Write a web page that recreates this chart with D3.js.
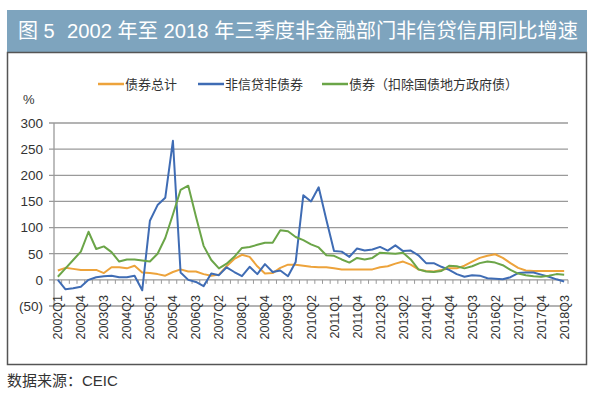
<!DOCTYPE html>
<html><head><meta charset="utf-8">
<script src="https://cdn.jsdelivr.net/npm/d3@7/dist/d3.min.js"></script>
<style>
html,body{margin:0;padding:0;background:#fff;}
svg{display:block;font-family:"Liberation Sans",Arial,"Noto Sans CJK SC",sans-serif;}
</style></head>
<body><svg id="c" width="598" height="394"></svg>
<script>
const quarters = [];
for (let y = 2002; y <= 2018; y++) for (let q = 1; q <= 4; q++) { if (y === 2018 && q > 3) break; quarters.push(y + "Q" + q); }
const seriesNames = ["债券总计", "非信贷非债券", "债券（扣除国债地方政府债）"];
const bondTotal = [18,23,21,19,19,19,13,24,24,22,27,14,13,11,8,15,20,16,16,11,8,10,26,40,48,44,26,12,13,23,29,29,27,25,24,24,22,20,20,20,20,20,24,26,31,35,29,20,17,16,19,22,22,27,35,42,46,49,42,32,23,18,17,17,17,17,17];
const nonCreditNonBond = [0,-18,-16,-13,0,5,7,8,5,5,8,-20,113,143,157,266,14,0,-4,-12,12,9,24,15,7,25,11,30,15,18,7,34,162,150,177,115,55,54,44,60,56,58,63,56,66,55,56,47,32,32,25,19,11,6,9,8,3,2,1,5,13,14,14,10,6,1,-3];
const bondExGov = [6,22,38,54,92,59,64,53,35,39,39,37,35,50,80,125,172,180,121,65,38,22,31,44,61,63,67,71,71,95,93,82,76,68,62,47,46,39,33,42,39,42,52,51,50,52,39,20,16,15,17,27,26,22,26,32,35,33,28,19,12,9,7,6,8,11,10];
const yTicks = [-50,0,50,100,150,200,250,300];
const colors = ["#EDA33B","#3F6CB4","#6BA548"];

const svg = d3.select("#c");
// title bar
svg.append("rect").attr("x",7).attr("y",10).attr("width",580).attr("height",42).attr("fill","#7EA4BE");
svg.append("text").attr("x",18).attr("y",38).attr("fill","#fff").attr("font-size",20)
  .text("图 5");
svg.append("text").attr("x",67).attr("y",38).attr("fill","#fff").attr("font-size",20)
  .attr("textLength",511).attr("lengthAdjust","spacingAndGlyphs")
  .text("2002 年至 2018 年三季度非金融部门非信贷信用同比增速");
// frame
svg.append("rect").attr("x",7.5).attr("y",52.5).attr("width",579).attr("height",312)
  .attr("fill","none").attr("stroke","#555").attr("stroke-width",1.5);

const x = d3.scaleBand().domain(quarters).range([54,568]).padding(0);
const y = d3.scaleLinear().domain([-50,300]).range([306,123]);
const cx = q => x(q) + x.bandwidth()/2;

// grid
svg.append("g").selectAll("line").data(yTicks).join("line")
  .attr("x1",49).attr("x2",568).attr("y1",d=>y(d)).attr("y2",d=>y(d))
  .attr("stroke","#9a9a9a").attr("stroke-width",1.3);
// y axis line
svg.append("line").attr("x1",54).attr("x2",54).attr("y1",y(300)).attr("y2",y(-50))
  .attr("stroke","#9a9a9a").attr("stroke-width",1.3);
// y labels
svg.append("g").selectAll("text").data(yTicks).join("text")
  .attr("x",43).attr("y",d=>y(d)).attr("dy","0.36em").attr("text-anchor","end")
  .attr("font-size",13.5).attr("fill","#333")
  .text(d => d < 0 ? "(" + Math.abs(d) + ")" : d);
svg.append("text").attr("x",23).attr("y",104).attr("font-size",13).attr("fill","#333").text("%");

// category axis ticks at zero line
const bounds = quarters.map(q => x(q)).concat([568]);
svg.append("g").selectAll("line").data(bounds).join("line")
  .attr("x1",d=>d).attr("x2",d=>d).attr("y1",y(0)).attr("y2",y(0)+4)
  .attr("stroke","#9a9a9a").attr("stroke-width",1);

// x labels
svg.append("g").selectAll("text").data(quarters.filter((q,i)=>i%3===0)).join("text")
  .attr("transform", q => `translate(${cx(q)},295) rotate(-90)`)
  .attr("text-anchor","end").attr("dy","0.36em")
  .attr("font-size",12.5).attr("fill","#333").text(q=>q);

// lines
const line = d3.line().x((d,i)=>cx(quarters[i])).y(d=>y(d));
[bondTotal, nonCreditNonBond, bondExGov].forEach((s,k)=>{
  svg.append("path").datum(s).attr("d",line).attr("fill","none")
    .attr("stroke",colors[k]).attr("stroke-width",2).attr("stroke-linejoin","round");
});

// legend
const legX = [98,198,322];
seriesNames.forEach((n,k)=>{
  svg.append("line").attr("x1",legX[k]).attr("x2",legX[k]+26).attr("y1",84).attr("y2",84)
    .attr("stroke",colors[k]).attr("stroke-width",2.5);
  svg.append("text").attr("x",legX[k]+27).attr("y",84).attr("dy","0.36em")
    .attr("font-size",13).attr("fill","#333").text(n);
});

// source
svg.append("text").attr("x",7).attr("y",386).attr("font-size",15).attr("fill","#333").text("数据来源：CEIC");
</script></body></html>
